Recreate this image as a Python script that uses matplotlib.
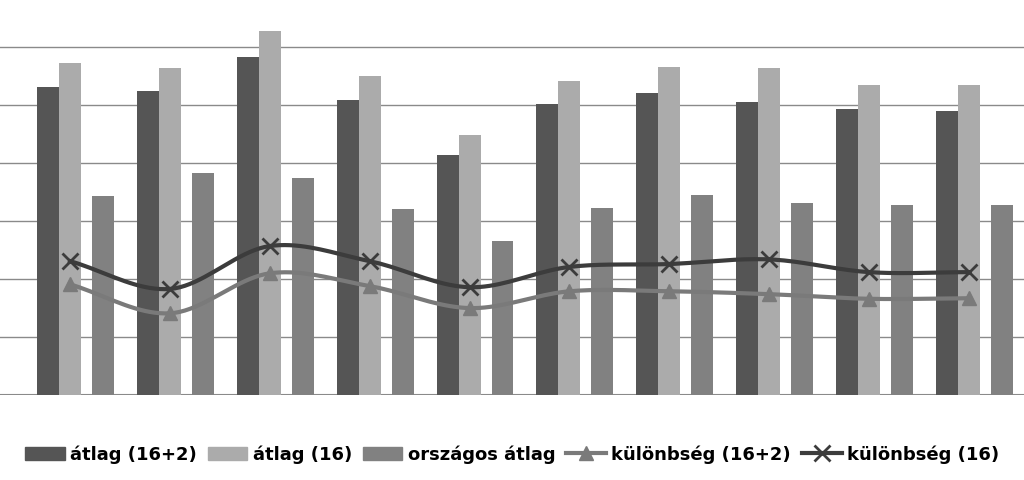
import numpy as np
import matplotlib.pyplot as plt
from matplotlib.lines import Line2D
from matplotlib.patches import Patch

# values (gridline units, no axis labels in original)
groups = list(range(10))
atlag_16_2 = [5.31, 5.24, 5.83, 5.09, 4.14, 5.02, 5.21, 5.05, 4.93, 4.90]
atlag_16 = [5.72, 5.64, 6.28, 5.50, 4.48, 5.41, 5.66, 5.64, 5.34, 5.34]
orszagos = [3.43, 3.83, 3.74, 3.21, 2.66, 3.22, 3.45, 3.31, 3.28, 3.28]
kul_16_2 = [1.91, 1.41, 2.10, 1.88, 1.50, 1.79, 1.79, 1.74, 1.66, 1.67]
kul_16 = [2.31, 1.83, 2.57, 2.31, 1.86, 2.21, 2.26, 2.34, 2.12, 2.12]


def smooth(x, y, n=20):
    # Catmull-Rom curve through the points
    x = np.asarray(x, float); y = np.asarray(y, float)
    px = np.concatenate([[2 * x[0] - x[1]], x, [2 * x[-1] - x[-2]]])
    py = np.concatenate([[2 * y[0] - y[1]], y, [2 * y[-1] - y[-2]]])
    xs, ys = [], []
    for i in range(1, len(px) - 2):
        t = np.linspace(0, 1, n, endpoint=False)
        for p, out in ((px, xs), (py, ys)):
            p0, p1, p2, p3 = p[i - 1:i + 3]
            out.extend(0.5 * (2 * p1 + (-p0 + p2) * t + (2 * p0 - 5 * p1 + 4 * p2 - p3) * t ** 2
                              + (-p0 + 3 * p1 - 3 * p2 + p3) * t ** 3))
    xs.append(x[-1]); ys.append(y[-1])
    return xs, ys


fig = plt.figure(figsize=(10.24, 4.8), dpi=100)
ax = fig.add_axes([0.0, 0.177, 1.0, 0.785])
x = np.array(groups)
w = 0.22
c_dark, c_light, c_mid = '#555555', '#ababab', '#818181'
ax.bar(x - 0.22 - w / 2 + 0.11, atlag_16_2, w, color=c_dark, zorder=2)
ax.bar(x + 0.11 - 0.11 + 0.0, atlag_16, w, color=c_light, zorder=2)
ax.bar(x + 0.22 + 0.11 - 0.0, orszagos, w, color=c_mid, zorder=2)

c_tri, c_x = '#7a7a7a', '#3c3c3c'
sx, sy = smooth(x, kul_16_2)
ax.plot(sx, sy, color=c_tri, lw=3, zorder=3)
ax.plot(x, kul_16_2, ls='none', marker='^', ms=10, color=c_tri, zorder=4)
sx, sy = smooth(x, kul_16)
ax.plot(sx, sy, color=c_x, lw=3, zorder=3)
ax.plot(x, kul_16, ls='none', marker='x', ms=11, mew=2, color=c_x, zorder=4)

ax.set_xlim(-0.7, 9.55)
ax.set_ylim(0, 6.5)
ax.set_yticks(range(0, 7))
ax.yaxis.grid(True, color='#8a8a8a', lw=1, zorder=0)
ax.tick_params(left=False, bottom=False, labelleft=False, labelbottom=False)
for s in ax.spines.values():
    s.set_visible(False)
ax.axhline(0, color='#8a8a8a', lw=1.5, zorder=1)

handles = [Patch(color=c_dark), Patch(color=c_light), Patch(color=c_mid),
           Line2D([], [], color=c_tri, lw=3, marker='^', ms=10),
           Line2D([], [], color=c_x, lw=3, marker='x', ms=11, mew=2)]
labels = ['átlag (16+2)', 'átlag (16)', 'országos átlag', 'különbség (16+2)', 'különbség (16)']
fig.legend(handles, labels, loc='lower center', bbox_to_anchor=(0.5, 0.0), ncol=5,
           frameon=False, prop={'family': 'DejaVu Sans', 'weight': 'bold', 'size': 13},
           handlelength=2.2, handletextpad=0.3, columnspacing=0.6)
fig.savefig('out.png', dpi=100)
